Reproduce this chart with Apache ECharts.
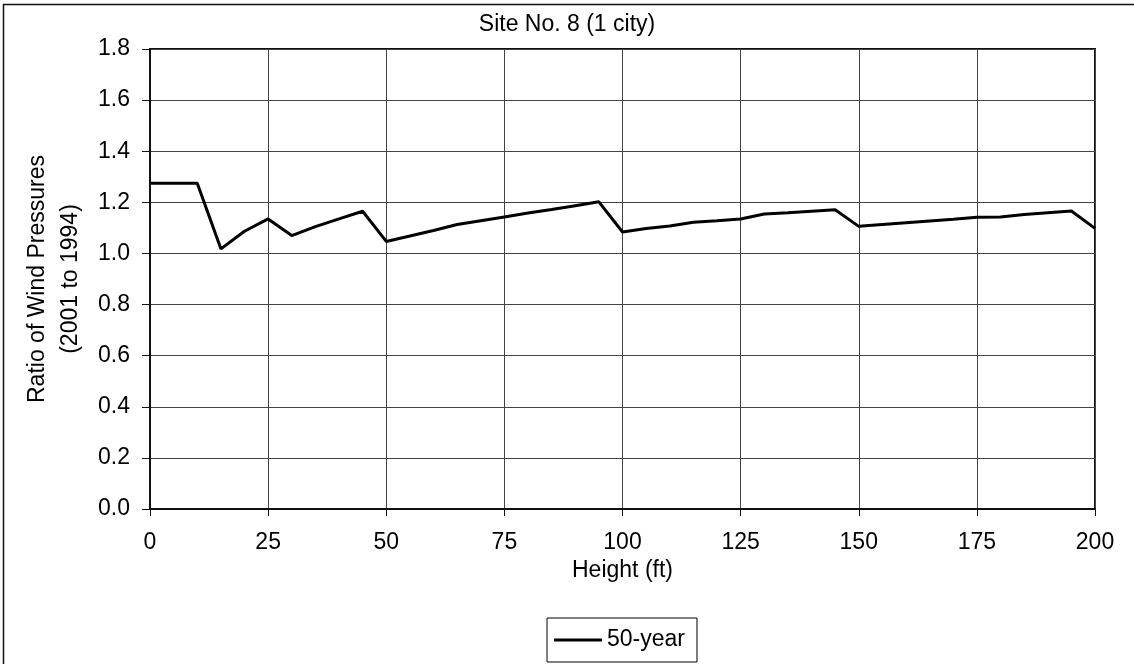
<!DOCTYPE html>
<html>
<head>
<meta charset="utf-8">
<script src="https://cdn.jsdelivr.net/npm/echarts@6/dist/echarts.min.js"></script>
<style>
html,body{margin:0;padding:0;background:#fff;}
#chart{width:1134px;height:664px;}
</style>
</head>
<body>
<div id="chart"></div>
<script>
var heights = [0,5,10,15,20,25,30,35,40,45,50,55,60,65,70,75,80,85,90,95,100,105,110,115,120,125,130,135,140,145,150,155,160,165,170,175,180,185,190,195,200];
var ratio50 = [1.275,1.275,1.275,1.018,1.087,1.135,1.070,1.105,1.135,1.165,1.047,1.068,1.090,1.113,1.128,1.143,1.158,1.172,1.187,1.202,1.084,1.098,1.107,1.122,1.128,1.135,1.154,1.159,1.165,1.171,1.106,1.113,1.120,1.127,1.134,1.142,1.143,1.152,1.159,1.166,1.098];
var titleText = 'Site No. 8 (1 city)';
var seriesName = '50-year';
var xName = 'Height (ft)';
var yName = 'Ratio of Wind Pressures\n(2001 to 1994)';

var FONT = "'Liberation Sans', Arial, sans-serif";
var chart = echarts.init(document.getElementById('chart'));
var pts = heights.map(function(h,i){ return [h, ratio50[i]]; });
chart.setOption({
  animation:false,
  backgroundColor:'#fff',
  graphic:[{type:'rect', shape:{x:3.5,y:4.5,width:1300,height:900}, style:{fill:'none', stroke:'#111', lineWidth:1.5}, silent:true}],
  title:{text:titleText, left:'center', top:11, padding:0,
    textStyle:{fontFamily:FONT, fontSize:23, fontWeight:'normal', color:'#000', lineHeight:28}},
  legend:{data:[seriesName], left:547, top:618, padding:[10,12,10,7], itemWidth:48, itemHeight:3, itemGap:5,
    borderColor:'#000', borderWidth:1, icon:'rect',
    itemStyle:{color:'#000'},
    textStyle:{fontFamily:FONT, fontSize:23, color:'#000', lineHeight:24, padding:[0,0,0,0]}},
  grid:{left:150, top:49, right:39, bottom:155, show:true, borderColor:'#111', borderWidth:2, containLabel:false},
  xAxis:{type:'value', min:0, max:200, interval:25,
    name:xName, nameLocation:'middle', nameGap:46,
    nameTextStyle:{fontFamily:FONT, fontSize:23, color:'#000'},
    axisLine:{show:true, onZero:false, lineStyle:{color:'#111', width:2}},
    axisTick:{show:true, length:7, lineStyle:{color:'#111', width:1}},
    axisLabel:{margin:22, fontFamily:FONT, fontSize:23, color:'#000'},
    splitLine:{show:true, lineStyle:{color:'#444', width:1}}},
  yAxis:{type:'value', min:0, max:1.8, interval:0.2,
    name:yName, nameLocation:'middle', nameRotate:90, nameGap:57,
    nameTextStyle:{fontFamily:FONT, fontSize:23, color:'#000', lineHeight:33},
    axisLine:{show:true, lineStyle:{color:'#111', width:2}},
    axisTick:{show:true, length:8, lineStyle:{color:'#111', width:1}},
    axisLabel:{margin:20, fontFamily:FONT, fontSize:23, color:'#000', formatter:function(v){return v.toFixed(1);}},
    splitLine:{show:true, lineStyle:{color:'#444', width:1}}},
  series:[{name:seriesName, type:'line', data:pts, symbol:'none', showSymbol:false,
    lineStyle:{color:'#000', width:3}, itemStyle:{color:'#000'}}]
});
</script>
</body>
</html>
